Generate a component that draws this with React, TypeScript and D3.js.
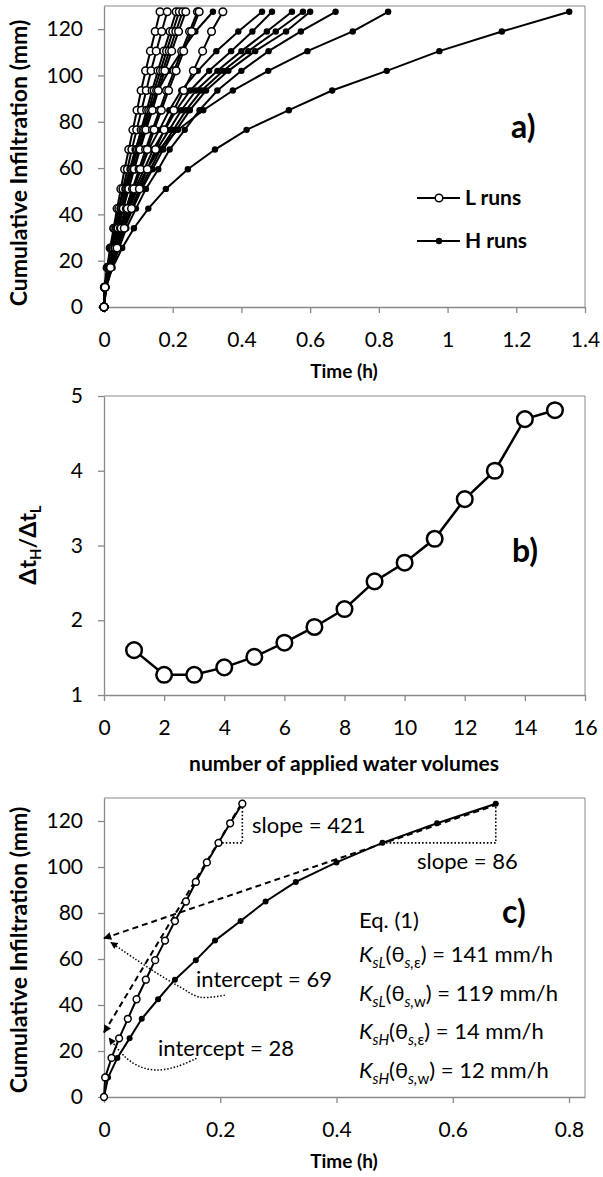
import * as d3 from "d3";
import { useEffect, useRef } from "react";

// cumulative infiltration levels (mm), one per applied water volume
const levels = [0, 8.5, 17, 25.5, 34, 42.5, 51, 59.5, 68, 76.5, 85, 93.5, 102, 110.5, 119, 127.5];

// panel a) times (h) for each run
const runL1 = [0, 0.001, 0.009, 0.018, 0.028, 0.038, 0.049, 0.06, 0.072, 0.084, 0.096, 0.108, 0.121, 0.135, 0.149, 0.163];
const runL2 = [0, 0.002, 0.01, 0.02, 0.031, 0.043, 0.055, 0.068, 0.081, 0.095, 0.109, 0.123, 0.137, 0.152, 0.168, 0.184];
const runL3 = [0, 0.002, 0.012, 0.023, 0.036, 0.049, 0.063, 0.078, 0.093, 0.108, 0.124, 0.14, 0.157, 0.174, 0.192, 0.21];
const runL4 = [0, 0.002, 0.011, 0.023, 0.037, 0.051, 0.066, 0.081, 0.097, 0.113, 0.13, 0.146, 0.164, 0.182, 0.2, 0.219];
const runL5 = [0, 0.002, 0.013, 0.026, 0.04, 0.055, 0.07, 0.086, 0.102, 0.118, 0.136, 0.153, 0.171, 0.19, 0.209, 0.229];
const runL6 = [0, 0.002, 0.013, 0.026, 0.041, 0.056, 0.072, 0.088, 0.105, 0.122, 0.141, 0.158, 0.177, 0.197, 0.217, 0.238];
const runL7 = [0, 0.003, 0.016, 0.031, 0.048, 0.065, 0.083, 0.102, 0.121, 0.141, 0.162, 0.182, 0.204, 0.226, 0.249, 0.272];
const runL8 = [0, 0.003, 0.017, 0.033, 0.05, 0.068, 0.087, 0.106, 0.126, 0.146, 0.167, 0.188, 0.21, 0.232, 0.255, 0.277];
const runL9 = [0, 0.003, 0.019, 0.038, 0.059, 0.08, 0.103, 0.126, 0.15, 0.175, 0.203, 0.232, 0.26, 0.287, 0.313, 0.346];

const runH1 = [0, 0.003, 0.011, 0.021, 0.031, 0.044, 0.058, 0.075, 0.091, 0.111, 0.132, 0.157, 0.189, 0.226, 0.266, 0.317];
const runH2 = [0, 0.005, 0.016, 0.03, 0.044, 0.064, 0.083, 0.108, 0.13, 0.161, 0.19, 0.225, 0.273, 0.327, 0.391, 0.46];
const runH3 = [0, 0.005, 0.017, 0.032, 0.048, 0.068, 0.09, 0.117, 0.143, 0.177, 0.21, 0.251, 0.306, 0.37, 0.432, 0.489];
const runH4 = [0, 0.005, 0.018, 0.035, 0.052, 0.074, 0.097, 0.126, 0.154, 0.19, 0.225, 0.268, 0.33, 0.4, 0.474, 0.547];
const runH5 = [0, 0.006, 0.02, 0.038, 0.056, 0.08, 0.105, 0.135, 0.164, 0.202, 0.239, 0.284, 0.347, 0.42, 0.5, 0.579];
const runH6 = [0, 0.006, 0.021, 0.04, 0.059, 0.084, 0.11, 0.141, 0.172, 0.211, 0.25, 0.297, 0.362, 0.44, 0.53, 0.6];
const runH7 = [0, 0.007, 0.023, 0.044, 0.065, 0.093, 0.122, 0.158, 0.191, 0.235, 0.278, 0.33, 0.4, 0.479, 0.573, 0.674];
const runH8 = [0, 0.004, 0.015, 0.03, 0.048, 0.07, 0.095, 0.125, 0.16, 0.215, 0.289, 0.375, 0.478, 0.592, 0.724, 0.827];
const runH9 = [0, 0.005, 0.025, 0.053, 0.087, 0.129, 0.18, 0.244, 0.323, 0.415, 0.538, 0.664, 0.823, 0.976, 1.158, 1.354];

const lRuns = [runL1, runL2, runL3, runL4, runL5, runL6, runL7, runL8, runL9];
const hRuns = [runH1, runH2, runH3, runH4, runH5, runH6, runH7, runH8, runH9];

// panel b)
const volumes = [1, 2, 3, 4, 5, 6, 7, 8, 9, 10, 11, 12, 13, 14, 15];
const ratio = [1.6, 1.27, 1.27, 1.37, 1.51, 1.7, 1.91, 2.15, 2.52, 2.77, 3.09, 3.62, 4.0, 4.69, 4.81];

// panel c) example runs + fitted lines
const cRunL = runL6;
const cRunH = runH7;
const fitL = { slope: 421, intercept: 28 };
const fitH = { slope: 86, intercept: 69 };

const timeTicksA = [0, 0.2, 0.4, 0.6, 0.8, 1, 1.2, 1.4];
const timeTicksC = [0, 0.2, 0.4, 0.6, 0.8];
const infTicks = [0, 20, 40, 60, 80, 100, 120];
const volumeTicks = [0, 2, 4, 6, 8, 10, 12, 14, 16];
const ratioTicks = [1, 2, 3, 4, 5];

const eqRows = [
  { sub1: "sL", sub2: "s,", sub3: "ε", value: " = 141 mm/h" },
  { sub1: "sL", sub2: "s,", sub3: "w", value: " = 119 mm/h" },
  { sub1: "sH", sub2: "s,", sub3: "ε", value: " = 14 mm/h" },
  { sub1: "sH", sub2: "s,", sub3: "w", value: " = 12 mm/h" },
];

const FONT = "Lato, 'Open Sans', 'DejaVu Sans', sans-serif";
const AXIS = "#898989";

export default function App() {
  const svgRef = useRef<SVGSVGElement | null>(null);

  useEffect(() => {
    const svg = d3.select(svgRef.current);
    svg.selectAll("*").remove();
    svg.attr("font-family", FONT);

    const defs = svg.append("defs");
    defs
      .append("marker")
      .attr("id", "arrowBig")
      .attr("viewBox", "0 0 10 10")
      .attr("refX", 9)
      .attr("refY", 5)
      .attr("markerWidth", 9)
      .attr("markerHeight", 8)
      .attr("markerUnits", "userSpaceOnUse")
      .attr("orient", "auto-start-reverse")
      .append("path")
      .attr("d", "M0,0L10,5L0,10z")
      .attr("fill", "#000");
    defs
      .append("marker")
      .attr("id", "arrowSmall")
      .attr("viewBox", "0 0 10 10")
      .attr("refX", 9)
      .attr("refY", 5)
      .attr("markerWidth", 8)
      .attr("markerHeight", 7)
      .attr("markerUnits", "userSpaceOnUse")
      .attr("orient", "auto")
      .append("path")
      .attr("d", "M0,0L10,5L0,10z")
      .attr("fill", "#000");

    const drawAxes = (
      x: d3.ScaleLinear<number, number>,
      y: d3.ScaleLinear<number, number>,
      xTicks: number[],
      yTicks: number[]
    ) => {
      const [x0, x1] = x.range();
      const [y0, y1] = y.range();
      // plot area border (top + right)
      svg
        .append("path")
        .attr("d", `M${x0},${y1}H${x1}V${y0}`)
        .attr("fill", "none")
        .attr("stroke", AXIS)
        .attr("stroke-width", 1);

      const gx = svg
        .append("g")
        .attr("transform", `translate(0,${y0})`)
        .call(d3.axisBottom(x).tickValues(xTicks).tickFormat((d) => String(d)).tickSize(6).tickSizeOuter(0).tickPadding(19));
      const gy = svg
        .append("g")
        .attr("transform", `translate(${x0},0)`)
        .call(d3.axisLeft(y).tickValues(yTicks).tickFormat((d) => String(d)).tickSize(6).tickSizeOuter(0).tickPadding(15));
      [gx, gy].forEach((g) => {
        g.attr("font-family", FONT).attr("font-size", 21);
        g.select(".domain").attr("stroke", AXIS).attr("stroke-width", 1.3);
        g.selectAll(".tick line").attr("stroke", AXIS).attr("stroke-width", 1.3);
        g.selectAll(".tick text").attr("fill", "#000");
      });
    };

    // ---------- panel a ----------
    const xA = d3.scaleLinear().domain([0, 1.4]).range([104, 585]);
    const yA = d3.scaleLinear().domain([0, 130]).range([307, 6]);
    drawAxes(xA, yA, timeTicksA, infTicks);

    const lineA = d3
      .line<number>()
      .x((t) => xA(t))
      .y((_, i) => yA(levels[i]));

    const gH = svg.append("g");
    hRuns.forEach((run) => {
      gH.append("path").attr("d", lineA(run)).attr("fill", "none").attr("stroke", "#000").attr("stroke-width", 2);
      gH.selectAll(null)
        .data(run)
        .join("circle")
        .attr("cx", (t) => xA(t))
        .attr("cy", (_, i) => yA(levels[i]))
        .attr("r", 3.2)
        .attr("fill", "#000");
    });
    const gL = svg.append("g");
    lRuns.forEach((run) => {
      gL.append("path").attr("d", lineA(run)).attr("fill", "none").attr("stroke", "#000").attr("stroke-width", 2);
      gL.selectAll(null)
        .data(run)
        .join("circle")
        .attr("cx", (t) => xA(t))
        .attr("cy", (_, i) => yA(levels[i]))
        .attr("r", 3.8)
        .attr("fill", "#fff")
        .attr("stroke", "#000")
        .attr("stroke-width", 1.5);
    });

    // legend
    const legend = [
      { label: "L runs", open: true, y: 198 },
      { label: "H runs", open: false, y: 241 },
    ];
    legend.forEach((d) => {
      svg.append("line").attr("x1", 417).attr("x2", 460).attr("y1", d.y).attr("y2", d.y).attr("stroke", "#000").attr("stroke-width", 2);
      svg
        .append("circle")
        .attr("cx", 439)
        .attr("cy", d.y)
        .attr("r", d.open ? 3.8 : 3.2)
        .attr("fill", d.open ? "#fff" : "#000")
        .attr("stroke", "#000")
        .attr("stroke-width", d.open ? 1.5 : 0);
      svg.append("text").attr("x", 465).attr("y", d.y + 7).attr("font-size", 21).attr("font-weight", 700).text(d.label);
    });

    svg.append("text").attr("x", 511).attr("y", 138).attr("font-size", 32).attr("font-weight", 700).text("a)");
    svg.append("text").attr("x", 344).attr("y", 378).attr("text-anchor", "middle").attr("font-size", 19).attr("font-weight", 700).text("Time (h)");
    svg
      .append("text")
      .attr("transform", "translate(27,163) rotate(-90)")
      .attr("text-anchor", "middle")
      .attr("font-size", 23)
      .attr("font-weight", 700)
      .text("Cumulative Infiltration (mm)");

    // ---------- panel b ----------
    const xB = d3.scaleLinear().domain([0, 16]).range([104, 585]);
    const yB = d3.scaleLinear().domain([1, 5]).range([695, 396]);
    drawAxes(xB, yB, volumeTicks, ratioTicks);

    const lineB = d3
      .line<number>()
      .x((_, i) => xB(volumes[i]))
      .y((v) => yB(v));
    svg.append("path").attr("d", lineB(ratio)).attr("fill", "none").attr("stroke", "#000").attr("stroke-width", 2.5);
    svg
      .append("g")
      .selectAll("circle")
      .data(ratio)
      .join("circle")
      .attr("cx", (_, i) => xB(volumes[i]))
      .attr("cy", (v) => yB(v))
      .attr("r", 7.8)
      .attr("fill", "#fff")
      .attr("stroke", "#000")
      .attr("stroke-width", 2.5);

    svg.append("text").attr("x", 512).attr("y", 562).attr("font-size", 32).attr("font-weight", 700).text("b)");
    svg
      .append("text")
      .attr("x", 344)
      .attr("y", 771)
      .attr("text-anchor", "middle")
      .attr("font-size", 21)
      .attr("font-weight", 700)
      .text("number of applied water volumes");
    const by = svg
      .append("text")
      .attr("transform", "translate(36,545) rotate(-90)")
      .attr("text-anchor", "middle")
      .attr("font-size", 23)
      .attr("font-weight", 700);
    by.append("tspan").text("Δt");
    by.append("tspan").attr("dy", 5).attr("font-size", 15).text("H");
    by.append("tspan").attr("dy", -5).text("/Δt");
    by.append("tspan").attr("dy", 5).attr("font-size", 15).text("L");

    // ---------- panel c ----------
    const xC = d3.scaleLinear().domain([0, 0.8275]).range([104, 585]);
    const yC = d3.scaleLinear().domain([0, 130]).range([1097, 798]);
    drawAxes(xC, yC, timeTicksC, infTicks);

    const lineC = d3
      .line<number>()
      .x((t) => xC(t))
      .y((_, i) => yC(levels[i]));

    // slope triangles (dotted)
    const slopeTri = (run: number[]) => {
      const n = run.length - 1;
      const p = `M${xC(run[n - 2])},${yC(levels[n - 2])}H${xC(run[n])}V${yC(levels[n])}`;
      svg.append("path").attr("d", p).attr("fill", "none").attr("stroke", "#000").attr("stroke-width", 1.6).attr("stroke-dasharray", "1.6,2");
    };
    slopeTri(cRunL);
    slopeTri(cRunH);

    // fitted lines (dashed, arrow on the intercept)
    [
      { fit: fitL, tEnd: 0.236 },
      { fit: fitH, tEnd: 0.676 },
    ].forEach(({ fit, tEnd }) => {
      svg
        .append("line")
        .attr("x1", xC(0))
        .attr("y1", yC(fit.intercept))
        .attr("x2", xC(tEnd))
        .attr("y2", yC(fit.intercept + fit.slope * tEnd))
        .attr("stroke", "#000")
        .attr("stroke-width", 2)
        .attr("stroke-dasharray", "6,4")
        .attr("marker-start", "url(#arrowBig)");
    });

    svg.append("path").attr("d", lineC(cRunH)).attr("fill", "none").attr("stroke", "#000").attr("stroke-width", 2);
    svg
      .append("g")
      .selectAll("circle")
      .data(cRunH)
      .join("circle")
      .attr("cx", (t) => xC(t))
      .attr("cy", (_, i) => yC(levels[i]))
      .attr("r", 3)
      .attr("fill", "#000");
    svg.append("path").attr("d", lineC(cRunL)).attr("fill", "none").attr("stroke", "#000").attr("stroke-width", 2);
    svg
      .append("g")
      .selectAll("circle")
      .data(cRunL)
      .join("circle")
      .attr("cx", (t) => xC(t))
      .attr("cy", (_, i) => yC(levels[i]))
      .attr("r", 3.4)
      .attr("fill", "#fff")
      .attr("stroke", "#000")
      .attr("stroke-width", 1.5);

    // intercept call-outs (dotted curved arrows), in data units
    const callout69: [number, number][] = [
      [0.208, 44.3],
      [0.165, 43.4],
      [0.131, 47.8],
      [0.091, 53.8],
      [0.056, 59.6],
      [0.012, 67.2],
    ];
    const callout28: [number, number][] = [
      [0.159, 16.8],
      [0.125, 13.2],
      [0.091, 11.7],
      [0.062, 13.2],
      [0.036, 17.5],
      [0.009, 25.6],
    ];
    const curve = d3
      .line<[number, number]>()
      .x((d) => xC(d[0]))
      .y((d) => yC(d[1]))
      .curve(d3.curveCatmullRom);
    [callout69, callout28].forEach((pts) => {
      svg
        .append("path")
        .attr("d", curve(pts))
        .attr("fill", "none")
        .attr("stroke", "#000")
        .attr("stroke-width", 1.5)
        .attr("stroke-dasharray", "1.5,1.8")
        .attr("marker-end", "url(#arrowSmall)");
    });

    const note = (x: number, y: number, s: string) =>
      svg.append("text").attr("x", x).attr("y", y).attr("font-size", 22).text(s);
    note(252, 833, "slope = 421");
    note(417, 869, "slope = 86");
    note(196, 987, "intercept = 69");
    note(158, 1056, "intercept = 28");

    svg.append("text").attr("x", 502).attr("y", 923).attr("font-size", 32).attr("font-weight", 700).text("c)");

    note(359, 928, "Eq. (1)");
    eqRows.forEach((r, i) => {
      const t = svg
        .append("text")
        .attr("x", 359)
        .attr("y", 962 + i * 38.5)
        .attr("font-size", 22);
      t.append("tspan").attr("font-style", "italic").text("K");
      t.append("tspan").attr("font-style", "italic").attr("font-size", 15).attr("dy", 6).text(r.sub1);
      t.append("tspan").attr("dy", -6).text("(θ");
      t.append("tspan").attr("font-style", "italic").attr("font-size", 15).attr("dy", 6).text(r.sub2);
      t.append("tspan").attr("font-size", 15).text(r.sub3);
      t.append("tspan").attr("dy", -6).text(")" + r.value);
    });

    svg.append("text").attr("x", 344).attr("y", 1168).attr("text-anchor", "middle").attr("font-size", 19).attr("font-weight", 700).text("Time (h)");
    svg
      .append("text")
      .attr("transform", "translate(27,950) rotate(-90)")
      .attr("text-anchor", "middle")
      .attr("font-size", 23)
      .attr("font-weight", 700)
      .text("Cumulative Infiltration (mm)");
  }, []);

  return (
    <svg
      ref={svgRef}
      width={603}
      height={1177}
      style={{ position: "absolute", left: 0, top: 0, background: "#fff" }}
    ></svg>
  );
}
